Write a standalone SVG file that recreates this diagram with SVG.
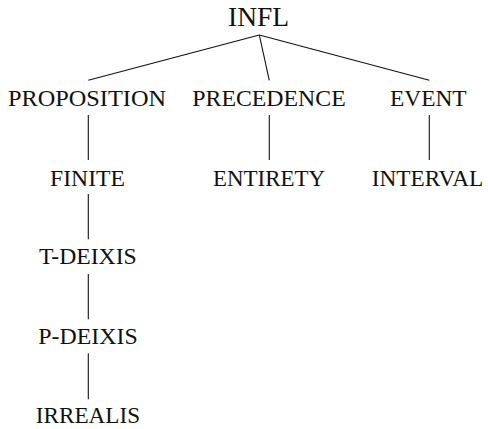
<svg xmlns="http://www.w3.org/2000/svg" width="488" height="429" viewBox="0 0 488 429">
<style>
text{font-family:"Liberation Serif","Times New Roman",serif;font-size:23px;fill:#111;text-anchor:middle}
.root{font-size:27px}
line{stroke:#111;stroke-width:1.1}
</style>
<rect width="488" height="429" fill="#fff"/>
<g id="connectors">
<line x1="259.3" y1="35" x2="88.3" y2="80.3"/>
<line x1="259.3" y1="35" x2="269.3" y2="80.3"/>
<line x1="259.3" y1="35" x2="429.3" y2="80.3"/>
<line x1="88.3" y1="115" x2="88.3" y2="160"/>
<line x1="269.3" y1="115" x2="269.3" y2="160"/>
<line x1="429.3" y1="115" x2="429.3" y2="160"/>
<line x1="88.3" y1="194" x2="88.3" y2="239.3"/>
<line x1="88.3" y1="274" x2="88.3" y2="319.3"/>
<line x1="88.3" y1="353.3" x2="88.3" y2="399.3"/>
</g>
<g id="n-infl"><text class="root" x="258.5" y="25.5" textLength="61" lengthAdjust="spacingAndGlyphs">INFL</text></g>
<g id="n-proposition"><text x="87" y="106" textLength="158" lengthAdjust="spacingAndGlyphs">PROPOSITION</text></g>
<g id="n-precedence"><text x="269" y="106" textLength="153.4" lengthAdjust="spacingAndGlyphs">PRECEDENCE</text></g>
<g id="n-event"><text x="428.3" y="106" textLength="76.7" lengthAdjust="spacingAndGlyphs">EVENT</text></g>
<g id="n-finite"><text x="87.5" y="185.7" textLength="75" lengthAdjust="spacingAndGlyphs">FINITE</text></g>
<g id="n-entirety"><text x="269" y="185.7" textLength="112" lengthAdjust="spacingAndGlyphs">ENTIRETY</text></g>
<g id="n-interval"><text x="427.5" y="185.7" textLength="111.6" lengthAdjust="spacingAndGlyphs">INTERVAL</text></g>
<g id="n-tdeixis"><text x="87.9" y="264.3" textLength="97.7" lengthAdjust="spacingAndGlyphs">T-DEIXIS</text></g>
<g id="n-pdeixis"><text x="88" y="344.3" textLength="99.4" lengthAdjust="spacingAndGlyphs">P-DEIXIS</text></g>
<g id="n-irrealis"><text x="87.9" y="423.3" textLength="104.3" lengthAdjust="spacingAndGlyphs">IRREALIS</text></g>
</svg>
